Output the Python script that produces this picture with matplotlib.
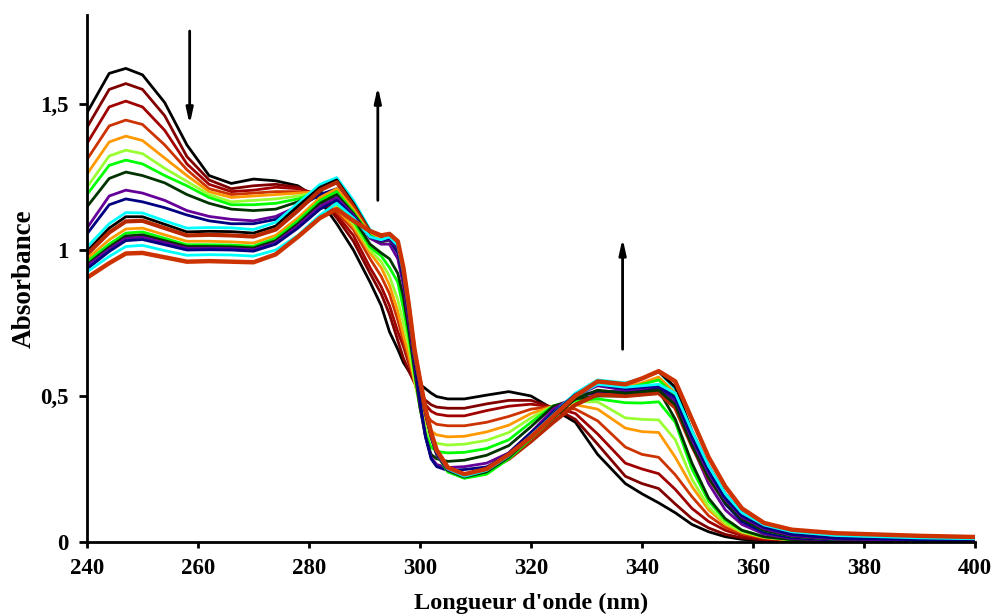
import matplotlib
matplotlib.use("Agg")
import matplotlib.pyplot as plt

wavelength = [240, 244, 247, 250, 254, 258, 262, 266, 270, 274, 278, 282, 285, 288, 291, 293, 294.5, 296, 297, 298,
              299, 300, 301, 302, 303, 305, 308, 312, 316, 320, 324, 328, 332, 337, 340, 343, 346, 349, 352, 355,
              358, 362, 367, 375, 390, 400]

# first series of spectra (decreasing band at 247 nm)
a_black = [1.47, 1.605, 1.622, 1.6, 1.505, 1.36, 1.255, 1.228, 1.243, 1.237, 1.22, 1.17, 1.09, 1.0, 0.89, 0.81, 0.72, 0.66, 0.615, 0.585,
           0.56, 0.54, 0.525, 0.51, 0.498, 0.49, 0.49, 0.503, 0.515, 0.5, 0.455, 0.41, 0.3, 0.2, 0.165, 0.134, 0.1, 0.06, 0.035, 0.018,
           0.009, 0.004, 0.002, 0.001, 0.0, 0.0]
a_maroon = [1.42, 1.55, 1.57, 1.55, 1.46, 1.32, 1.24, 1.21, 1.22, 1.225, 1.215, 1.18, 1.11, 1.03, 0.92, 0.85, 0.78, 0.69, 0.63, 0.585,
            0.545, 0.51, 0.485, 0.47, 0.462, 0.458, 0.458, 0.473, 0.485, 0.485, 0.46, 0.42, 0.335, 0.225, 0.2, 0.183, 0.13, 0.08, 0.048, 0.026,
            0.014, 0.007, 0.003, 0.002, 0.001, 0.001]
a_darkred = [1.365, 1.49, 1.51, 1.49, 1.41, 1.295, 1.225, 1.2, 1.205, 1.215, 1.21, 1.19, 1.12, 1.05, 0.94, 0.875, 0.81, 0.72, 0.67, 0.61,
             0.555, 0.505, 0.47, 0.448, 0.438, 0.432, 0.432, 0.45, 0.465, 0.472, 0.462, 0.44, 0.37, 0.27, 0.25, 0.234, 0.18, 0.115, 0.07, 0.04,
             0.022, 0.01, 0.005, 0.003, 0.002, 0.001]
a_orangered = [1.31, 1.425, 1.445, 1.43, 1.36, 1.275, 1.21, 1.19, 1.195, 1.2, 1.2, 1.195, 1.13, 1.07, 0.97, 0.91, 0.85, 0.76, 0.69, 0.62,
               0.55, 0.49, 0.44, 0.415, 0.403, 0.398, 0.398, 0.41, 0.43, 0.455, 0.464, 0.455, 0.415, 0.325, 0.3, 0.29, 0.23, 0.155, 0.09, 0.05,
               0.028, 0.013, 0.006, 0.003, 0.002, 0.002]
a_orange = [1.26, 1.37, 1.39, 1.375, 1.315, 1.255, 1.2, 1.18, 1.185, 1.19, 1.195, 1.2, 1.14, 1.08, 0.99, 0.94, 0.88, 0.79, 0.71, 0.64,
            0.55, 0.47, 0.41, 0.38, 0.367, 0.36, 0.362, 0.377, 0.4, 0.44, 0.465, 0.47, 0.455, 0.39, 0.378, 0.375, 0.29, 0.19, 0.11, 0.06,
            0.033, 0.015, 0.007, 0.004, 0.002, 0.002]
a_greenyellow = [1.215, 1.322, 1.342, 1.33, 1.28, 1.235, 1.19, 1.165, 1.17, 1.175, 1.185, 1.2, 1.15, 1.09, 1.0, 0.96, 0.91, 0.83, 0.75, 0.67,
                 0.56, 0.46, 0.39, 0.35, 0.338, 0.332, 0.335, 0.348, 0.375, 0.425, 0.466, 0.48, 0.48, 0.425, 0.42, 0.418, 0.35, 0.215, 0.12, 0.065,
                 0.035, 0.016, 0.007, 0.004, 0.003, 0.002]
a_lime = [1.19, 1.29, 1.308, 1.295, 1.255, 1.22, 1.18, 1.155, 1.155, 1.16, 1.175, 1.2, 1.16, 1.1, 1.01, 0.98, 0.94, 0.89, 0.8, 0.7,
          0.58, 0.46, 0.37, 0.325, 0.31, 0.305, 0.307, 0.32, 0.35, 0.41, 0.466, 0.485, 0.49, 0.477, 0.476, 0.48, 0.41, 0.25, 0.14, 0.075,
          0.04, 0.018, 0.008, 0.004, 0.003, 0.002]
a_darkgreen = [1.148, 1.245, 1.267, 1.255, 1.23, 1.19, 1.16, 1.14, 1.135, 1.14, 1.165, 1.2, 1.17, 1.11, 1.02, 0.99, 0.97, 0.92, 0.84, 0.72,
               0.59, 0.46, 0.36, 0.3, 0.285, 0.276, 0.28, 0.297, 0.33, 0.395, 0.465, 0.49, 0.5, 0.5, 0.505, 0.52, 0.42, 0.27, 0.15, 0.08,
               0.04, 0.018, 0.008, 0.004, 0.003, 0.002]
a_purple = [1.075, 1.185, 1.205, 1.195, 1.17, 1.135, 1.115, 1.105, 1.1, 1.115, 1.15, 1.19, 1.205, 1.12, 1.04, 1.02, 1.02, 0.97, 0.88, 0.75,
            0.61, 0.47, 0.36, 0.29, 0.265, 0.255, 0.258, 0.27, 0.305, 0.375, 0.455, 0.5, 0.51, 0.51, 0.515, 0.53, 0.48, 0.33, 0.2, 0.11,
            0.06, 0.027, 0.012, 0.006, 0.004, 0.003]
a_navy = [1.055, 1.155, 1.175, 1.165, 1.145, 1.12, 1.1, 1.09, 1.09, 1.105, 1.145, 1.19, 1.21, 1.13, 1.045, 1.03, 1.035, 0.99, 0.9, 0.77,
          0.62, 0.48, 0.36, 0.285, 0.258, 0.245, 0.248, 0.257, 0.29, 0.36, 0.445, 0.5, 0.515, 0.515, 0.52, 0.53, 0.49, 0.35, 0.22, 0.13,
          0.07, 0.033, 0.015, 0.007, 0.005, 0.004]

# second series of spectra
b_cyan = [1.01, 1.09, 1.128, 1.127, 1.1, 1.075, 1.077, 1.076, 1.07, 1.095, 1.16, 1.225, 1.248, 1.17, 1.07, 1.045, 1.058, 1.03, 0.93, 0.8,
          0.65, 0.55, 0.45, 0.37, 0.31, 0.25, 0.225, 0.245, 0.3, 0.37, 0.44, 0.51, 0.555, 0.545, 0.56, 0.585, 0.52, 0.37, 0.25, 0.16,
          0.1, 0.055, 0.032, 0.02, 0.013, 0.01]
b_black = [0.995, 1.075, 1.114, 1.114, 1.088, 1.062, 1.064, 1.063, 1.058, 1.082, 1.15, 1.215, 1.24, 1.16, 1.065, 1.04, 1.05, 1.025, 0.93, 0.8,
           0.65, 0.55, 0.45, 0.37, 0.31, 0.25, 0.225, 0.24, 0.29, 0.36, 0.43, 0.5, 0.55, 0.54, 0.56, 0.583, 0.53, 0.38, 0.26, 0.165,
           0.1, 0.055, 0.03, 0.018, 0.011, 0.008]
b_red = [0.985, 1.06, 1.098, 1.1, 1.075, 1.05, 1.052, 1.05, 1.046, 1.07, 1.135, 1.205, 1.232, 1.15, 1.06, 1.035, 1.045, 1.02, 0.93, 0.8,
         0.65, 0.55, 0.45, 0.37, 0.31, 0.255, 0.23, 0.245, 0.285, 0.345, 0.41, 0.47, 0.505, 0.5, 0.505, 0.51, 0.46, 0.33, 0.22, 0.14,
         0.085, 0.048, 0.028, 0.018, 0.012, 0.009]
b_orange = [0.97, 1.035, 1.072, 1.075, 1.052, 1.03, 1.03, 1.028, 1.024, 1.05, 1.11, 1.18, 1.21, 1.14, 1.055, 1.035, 1.04, 1.015, 0.92, 0.79,
            0.64, 0.545, 0.445, 0.365, 0.3, 0.245, 0.22, 0.235, 0.29, 0.36, 0.43, 0.5, 0.545, 0.53, 0.545, 0.565, 0.51, 0.36, 0.24, 0.15,
            0.09, 0.048, 0.025, 0.012, 0.006, 0.004]
b_lime = [0.96, 1.02, 1.058, 1.062, 1.04, 1.018, 1.018, 1.017, 1.013, 1.04, 1.1, 1.17, 1.2, 1.13, 1.05, 1.03, 1.035, 1.01, 0.92, 0.79,
          0.64, 0.54, 0.44, 0.36, 0.3, 0.24, 0.218, 0.232, 0.285, 0.355, 0.425, 0.495, 0.54, 0.525, 0.54, 0.555, 0.5, 0.35, 0.23, 0.14,
          0.08, 0.04, 0.02, 0.009, 0.004, 0.003]
b_darkgreen = [0.95, 1.01, 1.048, 1.052, 1.032, 1.012, 1.012, 1.011, 1.007, 1.032, 1.09, 1.16, 1.19, 1.125, 1.045, 1.028, 1.033, 1.005, 0.915, 0.785,
               0.64, 0.54, 0.44, 0.36, 0.3, 0.245, 0.222, 0.24, 0.29, 0.36, 0.425, 0.49, 0.52, 0.51, 0.515, 0.52, 0.47, 0.33, 0.22, 0.135,
               0.078, 0.04, 0.02, 0.009, 0.005, 0.004]
b_purple = [0.945, 1.003, 1.04, 1.044, 1.025, 1.006, 1.006, 1.005, 1.001, 1.026, 1.083, 1.15, 1.18, 1.12, 1.045, 1.03, 1.035, 1.005, 0.915, 0.785,
            0.64, 0.54, 0.44, 0.36, 0.3, 0.248, 0.228, 0.25, 0.3, 0.37, 0.435, 0.5, 0.535, 0.52, 0.525, 0.535, 0.49, 0.35, 0.235, 0.145,
            0.085, 0.045, 0.022, 0.01, 0.006, 0.005]
b_navy = [0.935, 0.995, 1.032, 1.036, 1.018, 1.0, 1.001, 1.0, 0.996, 1.02, 1.075, 1.14, 1.17, 1.115, 1.045, 1.033, 1.04, 1.01, 0.92, 0.79,
          0.645, 0.545, 0.445, 0.365, 0.305, 0.25, 0.23, 0.255, 0.305, 0.375, 0.44, 0.505, 0.54, 0.525, 0.53, 0.535, 0.495, 0.36, 0.245, 0.15,
          0.09, 0.05, 0.026, 0.013, 0.008, 0.006]
b_cyan2 = [0.925, 0.978, 1.012, 1.016, 0.998, 0.982, 0.984, 0.983, 0.979, 1.0, 1.05, 1.12, 1.16, 1.11, 1.045, 1.035, 1.045, 1.015, 0.925, 0.795,
           0.65, 0.55, 0.45, 0.37, 0.31, 0.25, 0.225, 0.245, 0.295, 0.365, 0.435, 0.5, 0.54, 0.53, 0.535, 0.54, 0.51, 0.38, 0.26, 0.165,
           0.1, 0.058, 0.035, 0.022, 0.014, 0.011]
b_red2 = [0.905, 0.955, 0.988, 0.99, 0.975, 0.96, 0.962, 0.96, 0.958, 0.985, 1.045, 1.11, 1.14, 1.1, 1.065, 1.05, 1.055, 1.03, 0.94, 0.81,
          0.66, 0.555, 0.455, 0.375, 0.315, 0.255, 0.232, 0.25, 0.3, 0.36, 0.43, 0.5, 0.55, 0.54, 0.56, 0.585, 0.55, 0.42, 0.29, 0.19,
          0.115, 0.065, 0.042, 0.03, 0.021, 0.017]

series = [
    (a_black, '#000000', 2.0), (a_maroon, '#800000', 2.0), (a_darkred, '#A00000', 2.0),
    (a_orangered, '#CC3300', 2.0), (a_orange, '#FF9900', 2.0), (a_greenyellow, '#99FF33', 2.0),
    (a_lime, '#00FF00', 2.0), (a_darkgreen, '#003300', 2.0), (a_purple, '#660099', 2.0),
    (a_navy, '#000080', 2.0),
    (b_cyan, '#00FFFF', 2.0), (b_black, '#000000', 2.0), (b_red, '#B82800', 3.0),
    (b_orange, '#FF9900', 2.0), (b_lime, '#00FF00', 2.0), (b_darkgreen, '#003300', 2.0),
    (b_purple, '#660099', 2.0), (b_navy, '#000080', 2.0), (b_cyan2, '#00FFFF', 2.0),
    (b_red2, '#CC3300', 3.2),
]

# arrows: (x, y_start, y_end)
arrows = [(258.5, 1.75, 1.43), (292.4, 1.17, 1.56), (336.5, 0.66, 1.04)]

x_ticks = [240, 260, 280, 300, 320, 340, 360, 380, 400]
y_ticks = [0, 0.5, 1, 1.5]
y_tick_labels = ['0', '0,5', '1', '1,5']

plt.rcParams['font.family'] = ['Liberation Serif', 'DejaVu Serif']

fig = plt.figure(figsize=(9.93, 6.14), dpi=100)
ax = fig.add_axes([0.0876, 0.1173, 0.8943, 0.8583])

for ys, col, lw in series:
    ax.plot(wavelength, ys, color=col, lw=lw, solid_capstyle='round', solid_joinstyle='round')

for x, y0, y1 in arrows:
    ax.annotate('', xy=(x, y1), xytext=(x, y0),
                arrowprops=dict(arrowstyle='-|>,head_width=0.2,head_length=0.9', lw=2.0, color='black',
                                shrinkA=0, shrinkB=0))

ax.set_xlim(240, 400)
ax.set_ylim(0, 1.805)
ax.set_xticks(x_ticks)
ax.set_xticklabels([str(t) for t in x_ticks], fontsize=16.5, fontweight='bold')
ax.set_yticks(y_ticks)
ax.set_yticklabels(y_tick_labels, fontsize=16.5, fontweight='bold')
ax.tick_params(axis='y', direction='out', length=5.5, width=2, pad=8)
ax.tick_params(axis='x', direction='out', length=4.5, width=2, pad=7)
for s in ['top', 'right']:
    ax.spines[s].set_visible(False)
for s in ['left', 'bottom']:
    ax.spines[s].set_linewidth(2)
ax.set_xlabel("Longueur d'onde (nm)", fontsize=17.5, fontweight='bold', labelpad=10)
ax.set_ylabel('Absorbance', fontsize=19.5, fontweight='bold', labelpad=2)

fig.savefig('out.png', dpi=100)
